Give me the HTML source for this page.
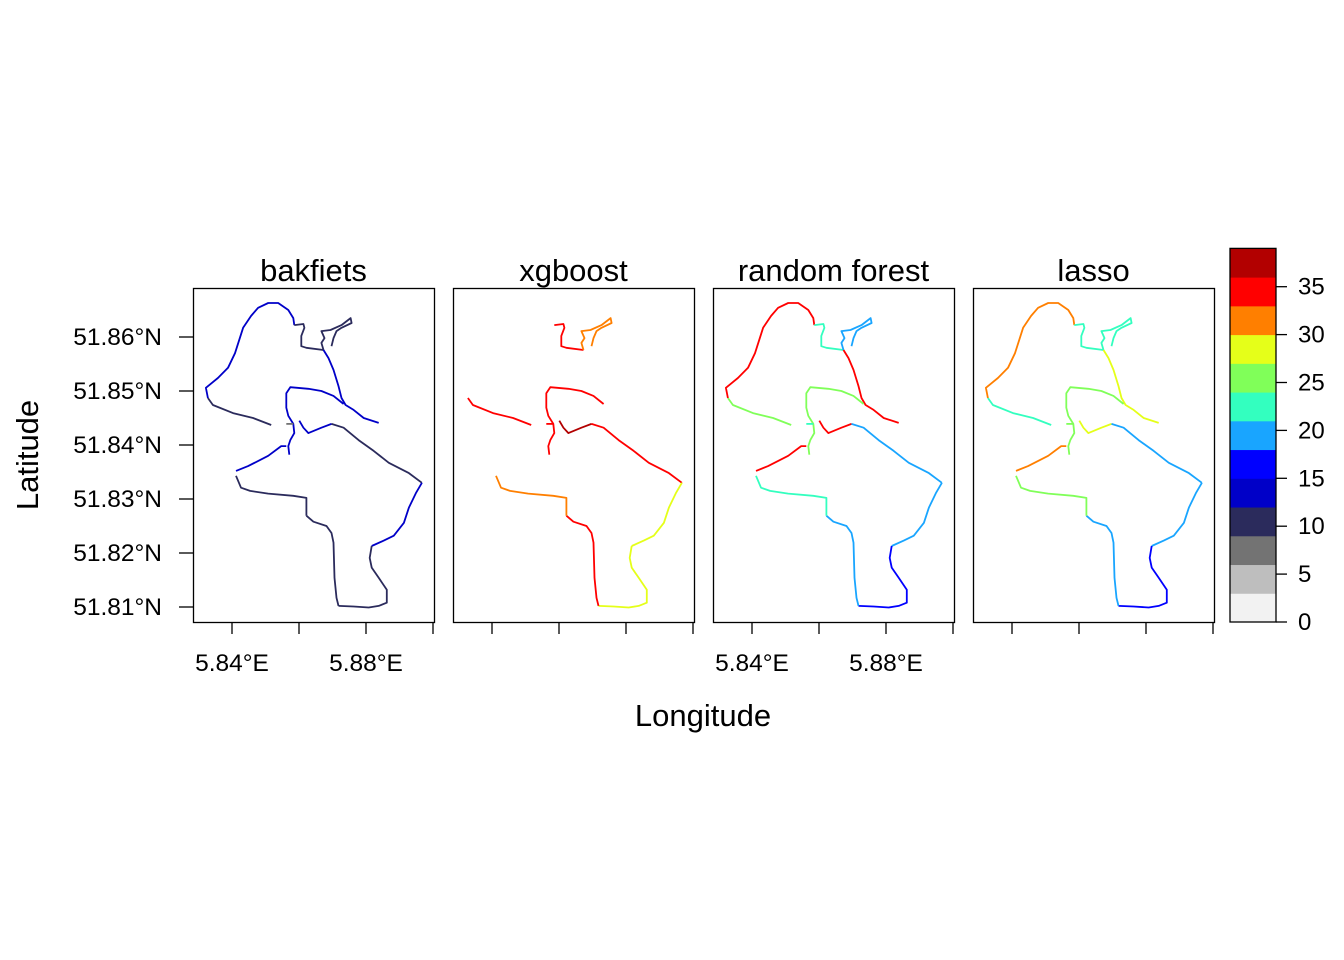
<!DOCTYPE html>
<html><head><meta charset="utf-8"><style>
html,body{margin:0;padding:0;background:#fff;}
svg{display:block;font-family:"Liberation Sans",Arial,sans-serif;}
</style></head><body>
<svg id="chart" width="1344" height="960" viewBox="0 0 1344 960"></svg>
<script>
const models = ["bakfiets","xgboost","random forest","lasso"];
const segLon = [
 [5.8517,5.8463,5.8403,5.8343,5.8328],
 [5.8328,5.8322,5.8358,5.8388,5.8409,5.8433,5.8457,5.8478,5.8508,5.8538,5.8568,5.8583,5.8586],
 [5.8586,5.8613,5.8616,5.8607,5.8607,5.8622,5.8673],
 [5.8673,5.8667,5.8676,5.8667,5.8694,5.8727,5.8754,5.8757,5.8727,5.8712,5.8703,5.8697],
 [5.8673,5.8688,5.8703,5.8718,5.8727,5.8739,5.8763,5.8793,5.8838],
 [5.8733,5.8703,5.8667,5.8628,5.8574,5.8562,5.8562,5.8568,5.8583,5.8586,5.8574,5.8568,5.8571],
 [5.8583,5.8562],
 [5.8601,5.8613,5.8628,5.8667,5.8697],
 [5.8697,5.8733,5.8778,5.8823,5.8868,5.8928,5.8967],
 [5.8967,5.8949,5.8928,5.8913,5.8883,5.8853,5.8817],
 [5.8817,5.8811,5.8817,5.8838,5.8862,5.8862,5.8838,5.8808,5.8763,5.8718],
 [5.8718,5.8712,5.8706,5.8703,5.8697,5.8682,5.8643,5.8622],
 [5.8622,5.8622,5.8583,5.8508,5.8454,5.8427,5.8412],
 [5.8412,5.8448,5.8508,5.8547,5.8562]
];
const segLat = [
 [51.8437,51.8450,51.8459,51.8474,51.8487],
 [51.8487,51.8506,51.8524,51.8543,51.8570,51.8617,51.8639,51.8654,51.8663,51.8663,51.8650,51.8635,51.8622],
 [51.8622,51.8624,51.8617,51.8602,51.8583,51.8580,51.8576],
 [51.8576,51.8589,51.8598,51.8611,51.8613,51.8622,51.8635,51.8626,51.8617,51.8611,51.8598,51.8583],
 [51.8576,51.8561,51.8539,51.8509,51.8487,51.8474,51.8465,51.8450,51.8441],
 [51.8476,51.8491,51.8500,51.8504,51.8507,51.8496,51.8469,51.8454,51.8439,51.8422,51.8409,51.8398,51.8382],
 [51.8439,51.8439],
 [51.8445,51.8432,51.8422,51.8432,51.8439],
 [51.8439,51.8432,51.8409,51.8389,51.8367,51.8348,51.8330],
 [51.8330,51.8311,51.8284,51.8256,51.8232,51.8223,51.8213],
 [51.8213,51.8191,51.8173,51.8154,51.8132,51.8108,51.8102,51.8099,51.8101,51.8102],
 [51.8102,51.8117,51.8154,51.8219,51.8237,51.8250,51.8258,51.8269],
 [51.8269,51.8302,51.8306,51.8310,51.8315,51.8321,51.8343],
 [51.8352,51.8361,51.8380,51.8398,51.8398]
];
const valBakfiets = [11,14,11,11,14,14,8,14,11,14,11,11,11,14];
const valXgboost  = [33,null,34,31,null,35,34,36,33,29,28,35,32,null];
const valRF       = [24,35,22,20,34,25,22,35,19,19,16,19,22,35];
const valLasso    = [23,32,22,21,27,25,25,29,20,19,16,19,24,31];
const latTicks = [51.81,51.82,51.83,51.84,51.85,51.86];
const lonTicks = [5.84,5.86,5.88,5.90];
const lonLabels = ["5.84°E","5.88°E"];
const cbTicks = [0,5,10,15,20,25,30,35];
const cbColors = ["#F2F2F2","#BEBEBE","#737373","#2B2B5C","#0000C8","#0000FF","#19A5FF","#33FFBF","#80FF59","#E5FF19","#FF7F00","#FF0000","#B20000"];
const cbStep = 3;

const NS="http://www.w3.org/2000/svg";
const svg=document.getElementById('chart');
function mk(tag,attrs,parent){const e=document.createElementNS(NS,tag);for(const k in attrs)e.setAttribute(k,attrs[k]);(parent||svg).appendChild(e);return e;}
const panelX=[193,453,713,973], pW=241, pTop=288, pBot=622;
function xs(lon,i){return panelX[i]+39+(lon-5.84)*3350;}
function ys(lat){return 337+(51.86-lat)*5400;}
function col(v){let k=Math.floor(v/cbStep);k=Math.max(0,Math.min(cbColors.length-1,k));return cbColors[k];}
const allVals=[valBakfiets,valXgboost,valRF,valLasso];

models.forEach((m,i)=>{
  const g=mk('g',{});
  
  
  const r=mk('rect',{x:panelX[i]+0.5,y:pTop+0.5,width:pW,height:pBot-pTop,fill:'#fff',stroke:'#000','stroke-width':1.3},g);
  
  
  const t=mk('text',{x:panelX[i]+pW/2,y:281,'text-anchor':'middle','font-size':31},g);
  t.textContent=m;
  
  
  segLon.forEach((lons,s)=>{
    const v=allVals[i][s];
    if(v===null)return;
    const pts=lons.map((lo,j)=>xs(lo,i).toFixed(1)+','+ys(segLat[s][j]).toFixed(1)).join(' ');
    const p=mk('polyline',{points:pts,fill:'none',stroke:col(v),'stroke-width':1.8,'stroke-linejoin':'round'},g);
    
    
  });
  lonTicks.forEach(lo=>{
    const x=xs(lo,i);
    const tk=mk('line',{x1:x,x2:x,y1:pBot,y2:pBot+12,stroke:'#000','stroke-width':1.3},g);
    
    
  });
  if(i===0||i===2){
    lonLabels.forEach((lb,k)=>{
      const x=xs(k===0?5.84:5.88,i);
      const tl=mk('text',{x:x,y:671,'text-anchor':'middle','font-size':24.5},g);
      tl.textContent=lb;
      
      
    });
  }
});
latTicks.forEach(la=>{
  const y=ys(la);
  const tk=mk('line',{x1:179,x2:193,y1:y,y2:y,stroke:'#000','stroke-width':1.3});
  
  
  const tl=mk('text',{x:162,y:y+8,'text-anchor':'end','font-size':24.5});
  tl.textContent=la.toFixed(2)+'°N';
  
  
});
const cbX=1230,cbW=46,cbBot=622,cbPx=9.58;
cbColors.forEach((c,k)=>{
  const y1=cbBot-(k+1)*cbStep*cbPx, y0=cbBot-k*cbStep*cbPx;
  const r=mk('rect',{x:cbX,y:y1,width:cbW,height:y0-y1+0.5,fill:c});
  
  
});
const cbf=mk('rect',{x:cbX,y:cbBot-13*cbStep*cbPx,width:cbW,height:13*cbStep*cbPx,fill:'none',stroke:'#000','stroke-width':1.3});


cbTicks.forEach(v=>{
  const y=cbBot-v*cbPx;
  const tk=mk('line',{x1:cbX+cbW,x2:cbX+cbW+11,y1:y,y2:y,stroke:'#000','stroke-width':1.3});
  
  
  const tl=mk('text',{x:1298,y:y+8,'font-size':24});
  tl.textContent=v;
  
  
});
const xt=mk('text',{x:703,y:726,'text-anchor':'middle','font-size':31});
xt.textContent='Longitude';


const yt=mk('text',{x:38,y:455,'text-anchor':'middle','font-size':31,transform:'rotate(-90 38 455)'});
yt.textContent='Latitude';


</script>
</body></html>
